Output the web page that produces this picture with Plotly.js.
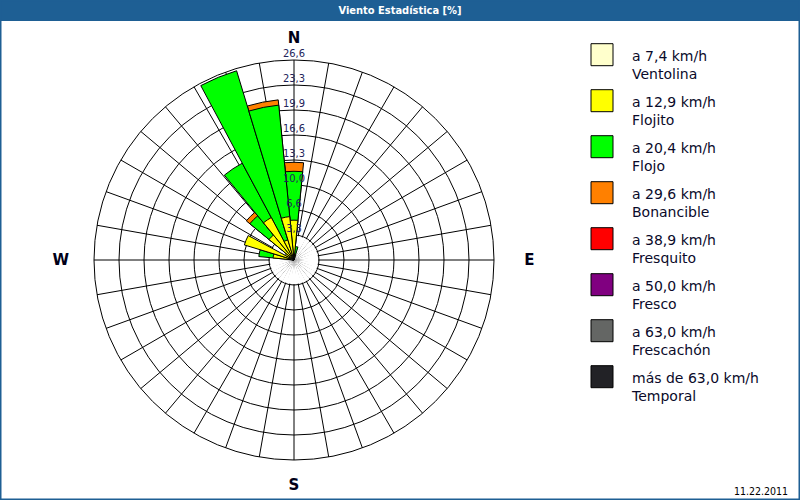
<!DOCTYPE html>
<html><head><meta charset="utf-8">
<script src="https://cdn.plot.ly/plotly-3.0.1.min.js"></script>
<style>html,body{margin:0;padding:0;background:#fff;} #chart{width:800px;height:500px;}</style>
</head><body><div id="chart"></div>
<script>
// 32 wind directions (degrees, clockwise from North)
const directions = [0,11.25,22.5,33.75,45,56.25,67.5,78.75,90,101.25,112.5,123.75,135,146.25,157.5,168.75,
  180,191.25,202.5,213.75,225,236.25,247.5,258.75,270,281.25,292.5,303.75,315,326.25,337.5,348.75];

// frequency [%] per speed class and direction
const ventolina  = [0.4,0.3,0,0,0,0,0,0,0,0,0,0,0,0,0,0,0,0,0,0,0,0,0,0,0.2,0.3,0.4,0.3,0.3,0.4,0.3,0.4];
const flojito    = [4.9,0.5,0,0,0,0,0,0,0,0,0,0,0,0,0,0,0,0,0,0,0,0,0,0,0,2.5,6.5,1.0,4.0,6.0,2.5,5.4];
const flojo      = [6.5,1.0,0,0,0,0,0,0,0,0,0,0,0,0,0,0,0,0,0,0,0,0,0,0,0,1.9,0,0,3.3,8.2,23.5,14.9];
const bonancible = [1.2,0,0,0,0,0,0,0,0,0,0,0,0,0,0,0,0,0,0,0,0,0,0,0,0,0,0,0,0.6,0,0,0.7];
const fresquito  = new Array(32).fill(0);
const fresco     = new Array(32).fill(0);
const frescachon = new Array(32).fill(0);
const temporal   = new Array(32).fill(0);

const classLabels = ["a 7,4 km/h<br>Ventolina","a 12,9 km/h<br>Flojito","a 20,4 km/h<br>Flojo","a 29,6 km/h<br>Bonancible",
  "a 38,9 km/h<br>Fresquito","a 50,0 km/h<br>Fresco","a 63,0 km/h<br>Frescachón","más de 63,0 km/h<br>Temporal"];
const classColors = ["#ffffcc","#ffff00","#00ff00","#ff8000","#ff0000","#800080","#646664","#222226"];

const ringValues = [3.325,6.65,9.975,13.3,16.625,19.95,23.275,26.6];
const ringLabels = ["3,3","6,6","10,0","13,3","16,6","19,9","23,3","26,6"];

const gridAngles = Array.from({length:36},(_,i)=>i*10);
const cardinal = {0:"N",90:"\u00A0\u00A0\u00A0E",180:"S",270:"W\u00A0\u00A0"};

const series = [ventolina,flojito,flojo,bonancible,fresquito,fresco,frescachon,temporal];
// cumulative (stacked) radii
const cum = [];
series.forEach((s,k)=>{
  cum.push(s.map((v,i)=>(k? cum[k-1][i]:0)+v));
});

const traces = [];
// white centre hole (covers grid lines inside the first ring)
traces.push({type:'barpolar', theta:directions, r:directions.map(()=>3.2), width:directions.map(()=>11.25),
  marker:{color:'#ffffff', line:{width:0}}, hoverinfo:'skip', showlegend:false});
for(let k=series.length-1;k>=0;k--){
  traces.push({type:'barpolar', theta:directions,
    r:cum[k].map((v,i)=>series[k][i]>0?v:null),
    width:directions.map(()=>11.25),
    marker:{color:classColors[k], line:{color:'#000000', width:1}},
    name:classLabels[k], showlegend:false});
}
// radial scale labels
traces.push({type:'scatterpolar', r:ringValues, theta:ringValues.map(()=>0), mode:'text', text:ringLabels,
  textposition:'top center', textfont:{family:'DejaVu Sans Condensed, DejaVu Sans', size:11, color:'#23235a'},
  hoverinfo:'skip', showlegend:false});

// custom legend (large swatches)
const idx = classLabels.map((_,i)=>i);
traces.push({type:'scatter', xaxis:'x', yaxis:'y', x:idx.map(()=>602), y:idx.map(i=>54.7+46*i), mode:'markers',
  marker:{symbol:'square', size:22, color:classColors, line:{color:'#000000', width:1}}, hoverinfo:'skip', showlegend:false});
traces.push({type:'scatter', xaxis:'x', yaxis:'y', x:idx.map(()=>632), y:idx.map(i=>54.7+46*i+12), mode:'text',
  text:classLabels, textposition:'middle right', textfont:{family:'DejaVu Sans', size:14, color:'#0a0a2a'},
  hoverinfo:'skip', showlegend:false});

const layout = {
  width:800, height:500, margin:{l:0,r:0,t:0,b:0},
  paper_bgcolor:'#ffffff', plot_bgcolor:'rgba(0,0,0,0)', showlegend:false,
  title:{text:'Viento Estadística [%]', x:0.5, xanchor:'center', y:1-10.5/500, yanchor:'middle',
    font:{family:'DejaVu Sans Condensed, DejaVu Sans', size:11, color:'#ffffff', weight:'bold'}},
  xaxis:{domain:[0,1], range:[0,800], visible:false, fixedrange:true},
  yaxis:{domain:[0,1], range:[500,0], visible:false, fixedrange:true},
  polar:{
    domain:{x:[94/800,494/800], y:[40/500,440/500]},
    bgcolor:'#ffffff', barmode:'overlay', hole:0,
    radialaxis:{range:[0,26.6], tickmode:'array', tickvals:ringValues, showticklabels:false, ticks:'',
      showgrid:true, gridcolor:'#000000', gridwidth:1, showline:false, angle:90},
    angularaxis:{rotation:90, direction:'clockwise', tickmode:'array', tickvals:gridAngles,
      ticktext:gridAngles.map(a=>cardinal[a]||''), showgrid:true, gridcolor:'#000000', gridwidth:1,
      showline:true, linecolor:'#000000', linewidth:1, ticks:'outside', ticklen:11, tickcolor:'rgba(0,0,0,0)',
      tickfont:{family:'DejaVu Sans', size:15, color:'#000018', weight:'bold'}}
  },
  shapes:[
    {type:'rect', xref:'paper', yref:'paper', x0:0, x1:1, y0:1-21/500, y1:1, fillcolor:'#1e5f94', line:{width:0}, layer:'above'},
    {type:'rect', xref:'paper', yref:'paper', x0:0, x1:1, y0:0, y1:1, line:{color:'#1e5f94', width:3}, layer:'above'}
  ],
  annotations:[
    {text:'11.22.2011', xref:'paper', yref:'paper', x:790/800, y:9/500, xanchor:'right', yanchor:'middle', showarrow:false,
     font:{family:'DejaVu Sans Condensed, DejaVu Sans', size:10.5, color:'#000000'}}
  ]
};
Plotly.newPlot('chart', traces, layout, {staticPlot:true, displayModeBar:false});
</script></body></html>
